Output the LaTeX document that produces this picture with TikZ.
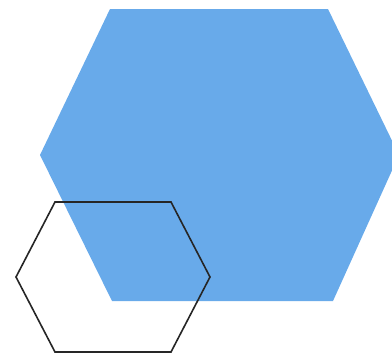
\documentclass[tikz,border=0pt]{standalone}
\definecolor{hexblue}{RGB}{104,170,234}
\begin{document}
\begin{tikzpicture}[x=1pt,y=-1pt,
  bighex/.style={fill=hexblue,draw=none},
  smallhex/.style={draw=black!85,line width=1.6pt,line join=miter}]
\useasboundingbox (0,0) rectangle (392,356);
\clip (0,0) rectangle (392,356);
\fill[bighex] (110,9) -- (328,9) -- (399,155) -- (333,301) -- (112,301) -- (40,155) -- cycle;
\draw[smallhex] (55,202) -- (171,202) -- (210,277) -- (171,352) -- (55,352) -- (16,277) -- cycle;
\end{tikzpicture}
\end{document}
